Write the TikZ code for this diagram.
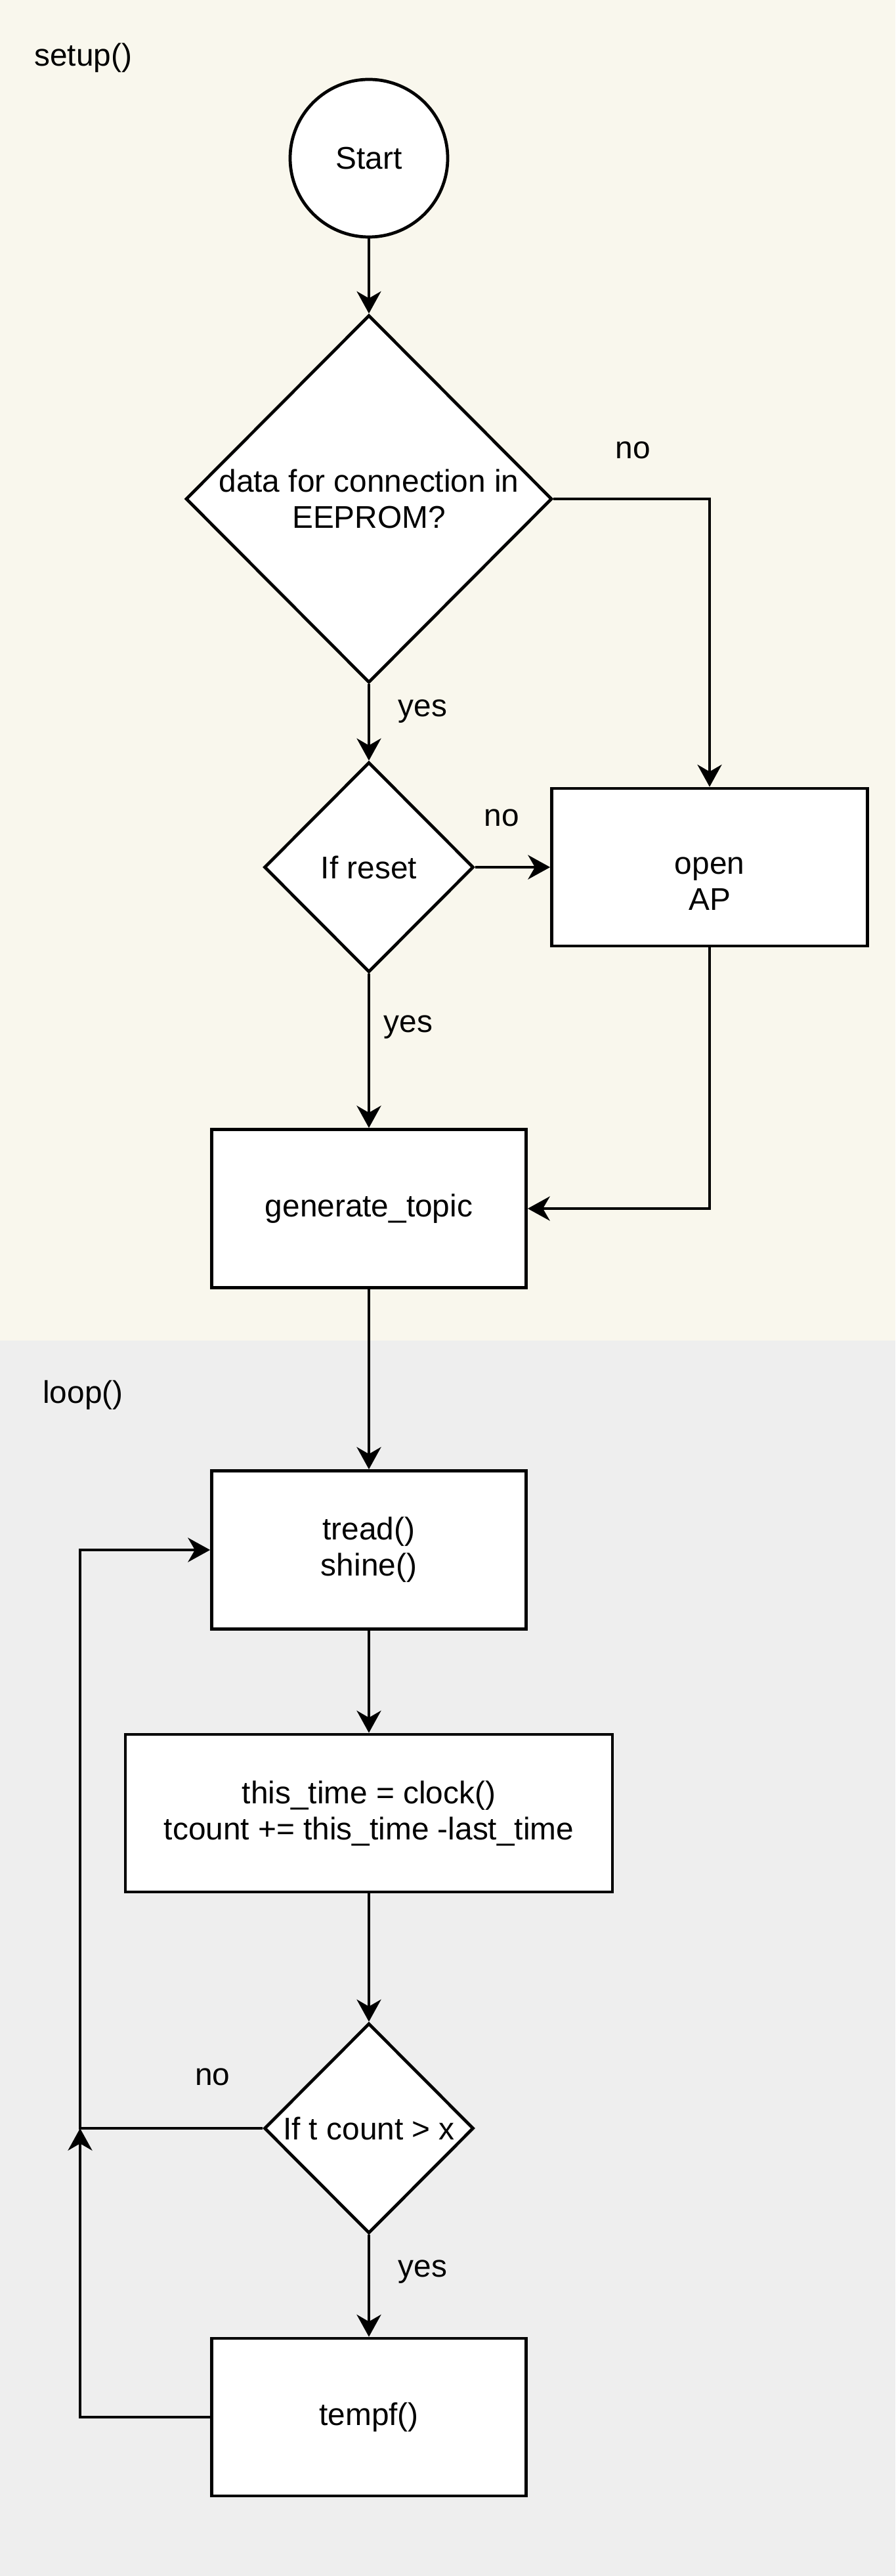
\documentclass[tikz,border=0pt]{standalone}
\usepackage{fontspec}
\setmainfont{Liberation Sans}
\usepackage{xcolor}
\usetikzlibrary{arrows.meta}
\usetikzlibrary{shapes.geometric}
\definecolor{setupbg}{HTML}{F9F7ED}
\definecolor{loopbg}{HTML}{EEEEEE}
\tikzset{
	procbox/.style={draw, fill=white, rectangle, minimum width=4.79cm, minimum height=2.41cm, align=center},
	choice/.style={draw, fill=white, diamond, inner sep=0pt, align=center},
	flowarrow/.style={-{Stealth[length=9.6pt, width=10.5pt, inset=3pt]}},
	branch/.style={inner sep=0pt},
}
\begin{document}
\begin{tikzpicture}[line width=1.35pt, font=\fontsize{13.6}{15.6}\selectfont]
		\useasboundingbox (0,0) rectangle (13.64,-39.24);
		% backgrounds of the two parts
		\fill[setupbg] (0,0) rectangle (13.64,-20.42);
		\fill[loopbg] (0,-20.42) rectangle (13.64,-39.24);
		\node[branch, anchor=west] (setuptitle) at (0.50,-0.88) {setup()};
		\node[branch, anchor=west] (looptitle) at (0.63,-21.25) {loop()};
		% setup()
		\node[draw, fill=white, circle, minimum size=2.40cm] (start) at (5.62,-2.41) {Start};
		\node[choice, minimum width=5.58cm, minimum height=5.60cm] (eeprom) at (5.62,-7.60) {data for connection in\\EEPROM?};
		\node[choice, minimum width=3.19cm, minimum height=3.20cm] (reset) at (5.62,-13.21) {If reset};
		\node[procbox, minimum width=4.81cm, minimum height=2.40cm] (openap) at (10.81,-13.21) {\strut\\\strut open\\\strut AP};
		\node[procbox] (topic) at (5.62,-18.41) {generate\_topic};
		\draw[flowarrow] (start) -- (eeprom);
		\draw[flowarrow] (eeprom.east) -| (openap.north);
		\node[branch] (noeeprom) at (9.64,-6.86) {no};
		\draw[flowarrow] (eeprom.south) -- (reset.north);
		\node[branch] (yeseeprom) at (6.44,-10.84) {yes};
		\draw[flowarrow] (reset.east) -- (openap.west);
		\node[branch] (noreset) at (7.64,-12.46) {no};
		\draw[flowarrow] (reset.south) -- (topic.north);
		\node[branch] (yesreset) at (6.22,-15.65) {yes};
		\draw[flowarrow] (openap.south) |- (topic.east);
		% loop()
		\node[procbox] (tread) at (5.62,-23.61) {tread()\\shine()};
		\node[procbox, minimum width=7.42cm, minimum height=2.40cm] (clock) at (5.62,-27.62) {this\_time = clock()\\tcount += this\_time -last\_time};
		\node[choice, minimum width=3.19cm, minimum height=3.20cm] (tcount) at (5.62,-32.42) {If t count > x};
		\node[procbox, minimum height=2.40cm] (tempf) at (5.62,-36.82) {tempf()};
		\coordinate (back) at (1.22,-32.42);
		\draw[flowarrow] (topic) -- (tread);
		\draw[flowarrow] (tread) -- (clock);
		\draw[flowarrow] (clock) -- (tcount);
		\draw[flowarrow] (tcount) -- (tempf);
		\node[branch] (yestcount) at (6.44,-34.61) {yes};
		\draw[flowarrow] (tcount.west) -- (back) |- (tread.west);
		\node[branch] (notcount) at (3.24,-31.64) {no};
		\draw[flowarrow] (tempf.west) -| (back);
	\end{tikzpicture}
\end{document}
